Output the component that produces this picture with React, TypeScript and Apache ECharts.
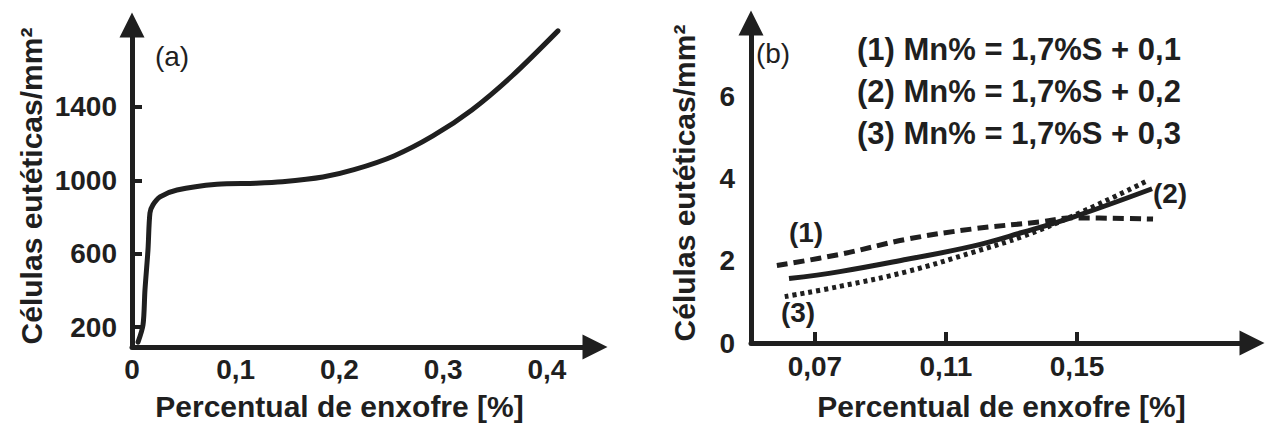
import React, { useEffect, useRef } from "react";
import * as echarts from "echarts";

// Panel (a): eutectic cells vs sulphur %
const sulfurA = [0.0058, 0.0106, 0.0125, 0.0154, 0.0173, 0.0202, 0.027, 0.0434, 0.0819, 0.1195, 0.145, 0.184, 0.214, 0.2525, 0.29, 0.3276, 0.3663, 0.4106];
const cellsA = [118, 211, 402, 620, 822, 866, 910, 947, 978, 984, 992, 1018, 1058, 1133, 1242, 1384, 1569, 1815];

// Panel (b): three Mn levels
const sulfur1 = [0.0584, 0.0776, 0.0981, 0.1182, 0.1387, 0.1488, 0.1732];
const cells1 = [1.89, 2.16, 2.53, 2.78, 2.95, 3.05, 3.02];
const sulfur2 = [0.0621, 0.0776, 0.0981, 0.1182, 0.1335, 0.1488, 0.1729];
const cells2 = [1.57, 1.74, 2.04, 2.36, 2.7, 3.07, 3.76];
const sulfur3 = [0.0608, 0.0776, 0.0981, 0.1182, 0.1335, 0.1488, 0.1717];
const cells3 = [1.13, 1.38, 1.74, 2.21, 2.6, 3.1, 3.96];

const xTicksA = [0, 0.1, 0.2, 0.3, 0.4];
const yTicksA = [200, 600, 1000, 1400];
const xTicksB = [0.07, 0.11, 0.15];
const yTicksB = [0, 2, 4, 6];

const legendLines = ["(1) Mn% = 1,7%S + 0,1", "(2) Mn% = 1,7%S + 0,2", "(3) Mn% = 1,7%S + 0,3"];
const xTitle = "Percentual de enxofre [%]";
const yTitle = "Células eutéticas/mm²";

const INK = "#1f1f1f";
const FONT = "'Liberation Sans', Arial, sans-serif";

const zip = (xs: number[], ys: number[]) => xs.map((x, i) => [x, ys[i]]);
const comma = (v: number) => String(v).replace(".", ",");

function axisLineStyle() {
  return {
    show: true,
    lineStyle: { color: INK, width: 5 },
    symbol: ["none", "triangle"],
    symbolSize: [25, 25],
  };
}

export default function App() {
  const ref = useRef<HTMLDivElement>(null);
  useEffect(() => {
    document.body.style.margin = "0";
    const chart = echarts.init(ref.current!, null, { renderer: "svg" });
    const tickLabel = { color: INK, fontSize: 28, fontWeight: "bold", fontFamily: FONT };
    const nameStyle = { color: INK, fontSize: 30, fontWeight: "bold", fontFamily: FONT };
    chart.setOption({
      animation: false,
      textStyle: { fontFamily: FONT },
      grid: [
        { left: 132, top: 25, width: 463, height: 322, outerBoundsMode: "none" },
        { left: 751, top: 23, width: 501, height: 320, outerBoundsMode: "none" },
      ],
      xAxis: [
        {
          type: "value", gridIndex: 0, min: 0, max: 0.4463,
          axisLine: axisLineStyle(),
          axisTick: { show: false },
          splitLine: { show: false },
          axisLabel: { ...tickLabel, margin: 8, customValues: xTicksA, formatter: comma },
          name: xTitle, nameLocation: "middle", nameGap: 44,
          nameTextStyle: { ...nameStyle, padding: [0, 48, 0, 0] },
        },
        {
          type: "value", gridIndex: 1, min: 0.0505, max: 0.2034,
          axisLine: axisLineStyle(),
          axisTick: { show: true, inside: true, length: 11, lineStyle: { color: INK, width: 4 }, customValues: xTicksB },
          splitLine: { show: false },
          axisLabel: { ...tickLabel, margin: 9, customValues: xTicksB, formatter: comma },
          name: xTitle, nameLocation: "middle", nameGap: 48,
          nameTextStyle: { ...nameStyle },
        },
      ],
      yAxis: [
        {
          type: "value", gridIndex: 0, min: 91, max: 1847,
          axisLine: axisLineStyle(),
          axisTick: { show: true, inside: true, length: 10, lineStyle: { color: INK, width: 4 }, customValues: yTicksA },
          splitLine: { show: false },
          axisLabel: { ...tickLabel, margin: 15, customValues: yTicksA, formatter: (v: number) => String(v) },
          name: yTitle, nameLocation: "middle", nameGap: 86,
          nameTextStyle: { ...nameStyle },
        },
        {
          type: "value", gridIndex: 1, min: 0, max: 7.8,
          axisLine: axisLineStyle(),
          axisTick: { show: false },
          splitLine: { show: false },
          axisLabel: { ...tickLabel, margin: 16, customValues: yTicksB, formatter: (v: number) => String(v) },
          name: yTitle, nameLocation: "middle", nameGap: 52,
          nameTextStyle: { ...nameStyle },
        },
      ],
      series: [
        {
          type: "line", xAxisIndex: 0, yAxisIndex: 0, data: zip(sulfurA, cellsA),
          showSymbol: false, smooth: 0.3,
          lineStyle: { color: INK, width: 5, cap: "round", join: "round" },
        },
        {
          type: "line", xAxisIndex: 1, yAxisIndex: 1, data: zip(sulfur1, cells1),
          showSymbol: false, smooth: 0.4,
          lineStyle: { color: INK, width: 5, type: [11, 6], cap: "butt" },
        },
        {
          type: "line", xAxisIndex: 1, yAxisIndex: 1, data: zip(sulfur2, cells2),
          showSymbol: false, smooth: 0.4,
          lineStyle: { color: INK, width: 5 },
        },
        {
          type: "line", xAxisIndex: 1, yAxisIndex: 1, data: zip(sulfur3, cells3),
          showSymbol: false, smooth: 0.4,
          lineStyle: { color: INK, width: 5, type: [4, 4], cap: "butt" },
        },
      ],
      graphic: [
        { type: "text", x: 172, y: 56, style: { text: "(a)", fill: INK, font: `normal 28px ${FONT}`, align: "center", verticalAlign: "middle" } },
        { type: "text", x: 773, y: 53, style: { text: "(b)", fill: INK, font: `normal 28px ${FONT}`, align: "center", verticalAlign: "middle" } },
        ...legendLines.map((t, i) => ({
          type: "text", x: 857, y: 49 + i * 42,
          style: { text: t, fill: INK, font: `bold 31px ${FONT}`, align: "left", verticalAlign: "middle" },
        })),
        { type: "text", x: 806, y: 232, style: { text: "(1)", fill: INK, font: `bold 28px ${FONT}`, align: "center", verticalAlign: "middle" } },
        { type: "text", x: 1170, y: 193, style: { text: "(2)", fill: INK, font: `bold 28px ${FONT}`, align: "center", verticalAlign: "middle" } },
        { type: "text", x: 798, y: 312, style: { text: "(3)", fill: INK, font: `bold 28px ${FONT}`, align: "center", verticalAlign: "middle" } },
      ],
    });
    return () => chart.dispose();
  }, []);
  return <div ref={ref} style={{ width: 1266, height: 425 }} />;
}
